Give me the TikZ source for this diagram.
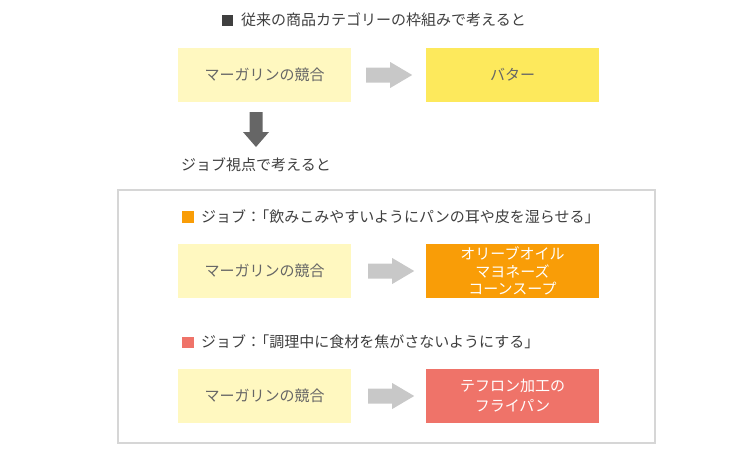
\documentclass[tikz,border=0pt]{standalone}
\usepackage{fontspec}
\setmainfont{Noto Sans CJK JP}
\usetikzlibrary{calc}
\definecolor{txtdark}{HTML}{3F3F3F}
\definecolor{txtbox}{HTML}{666666}
\definecolor{lightyel}{HTML}{FFF8C0}
\definecolor{yel}{HTML}{FDE95C}
\definecolor{orng}{HTML}{F99D07}
\definecolor{salmon}{HTML}{EF7369}
\definecolor{arrowgray}{HTML}{C8C8C8}
\definecolor{darkarrow}{HTML}{666666}
\definecolor{framegray}{HTML}{D6D6D6}
\tikzset{
  box/.style={minimum width=173pt, minimum height=54pt, inner sep=0pt, align=center, font=\fontsize{15pt}{17.5pt}\selectfont},
  margbox/.style={box, fill=lightyel, text=txtbox},
  heading/.style={anchor=west, inner sep=0pt, text=txtdark, font=\fontsize{15pt}{17pt}\selectfont},
  sq/.style={minimum size=11.5pt, inner sep=0pt},
  blockarrow/.style={fill=arrowgray},
}
\begin{document}
\begin{tikzpicture}[x=1pt,y=-1pt]
\useasboundingbox (0,0) rectangle (750,461);
% title
\node[sq, fill=txtdark] (tsq) at (227.5,20.5) {};
\node[heading] (title) at (241,20) {従来の商品カテゴリーの枠組みで考えると};
% top row
\node[margbox] (m1) at (264.5,75) {マーガリンの競合};
\node[box, fill=yel, text=txtbox] (b1) at (512.5,75) {バター};
\fill[blockarrow] ($(m1.east)+(15,-7.5)$) -- ++(24,0) -- ++(0,-5.5) -- ++(22,13) -- ++(-22,13) -- ++(0,-5.5) -- ++(-24,0) -- cycle;
% down arrow
\coordinate (dtop) at (256,112);
\fill[darkarrow] ($(dtop)+(-6.5,0)$) -- ++(13,0) -- ++(0,20) -- ++(6.5,0) -- ++(-13,15) -- ++(-13,-15) -- ++(6.5,0) -- cycle;
\node[heading] (jobview) at (181,165) {ジョブ視点で考えると};
% frame
\draw[framegray, line width=2pt] (118,190) rectangle (654.5,443);
% job 1
\node[sq, fill=orng] (sq1) at (188,217) {};
\node[heading] (job1) at (201,217) {ジョブ：\kern-0.45em「飲みこみやすいようにパンの耳や皮を湿らせる」};
\node[margbox] (m2) at (264.5,271) {マーガリンの競合};
\node[box, fill=orng, text=white] (b2) at (512.5,271) {オリーブオイル\\マヨネーズ\\コーンスープ};
\fill[blockarrow] ($(m2.east)+(17,-7.5)$) -- ++(24,0) -- ++(0,-5.5) -- ++(22,13) -- ++(-22,13) -- ++(0,-5.5) -- ++(-24,0) -- cycle;
% job 2
\node[sq, fill=salmon] (sq2) at (188,342.5) {};
\node[heading] (job2) at (201,342) {ジョブ：\kern-0.45em「調理中に食材を焦がさないようにする」};
\node[margbox] (m3) at (264.5,396) {マーガリンの競合};
\node[box, fill=salmon, text=white, font=\fontsize{15pt}{20pt}\selectfont] (b3) at (512.5,396) {テフロン加工の\\フライパン};
\fill[blockarrow] ($(m3.east)+(17,-7.5)$) -- ++(24,0) -- ++(0,-5.5) -- ++(22,13) -- ++(-22,13) -- ++(0,-5.5) -- ++(-24,0) -- cycle;
\end{tikzpicture}
\end{document}
